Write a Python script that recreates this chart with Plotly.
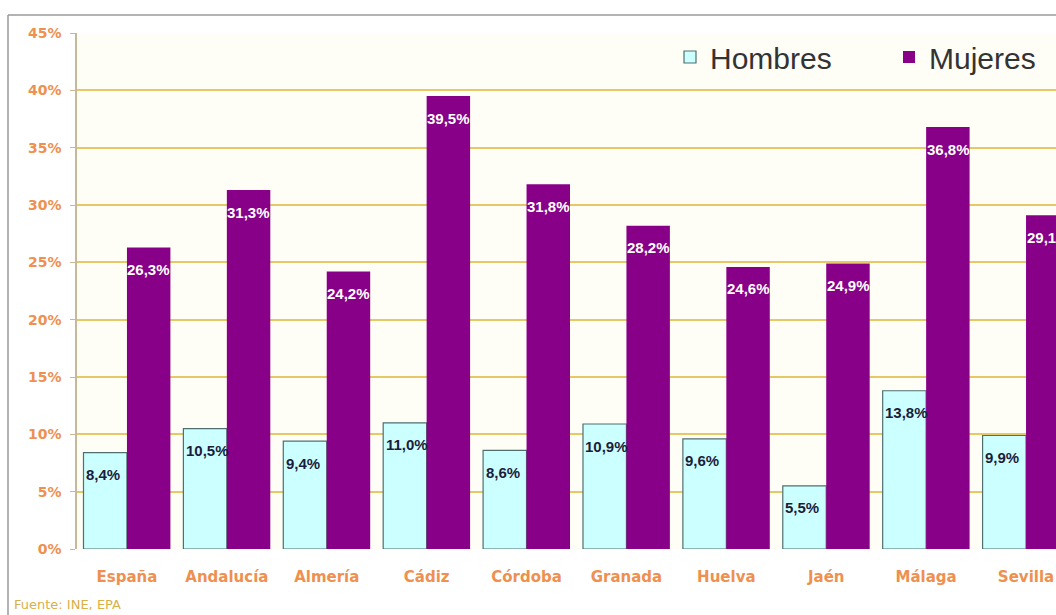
import plotly.graph_objects as go

categorias = ["España", "Andalucía", "Almería", "Cádiz", "Córdoba", "Granada",
              "Huelva", "Jaén", "Málaga", "Sevilla"]
hombres = [8.4, 10.5, 9.4, 11.0, 8.6, 10.9, 9.6, 5.5, 13.8, 9.9]
mujeres = [26.3, 31.3, 24.2, 39.5, 31.8, 28.2, 24.6, 24.9, 36.8, 29.1]
y_ticks = [0, 5, 10, 15, 20, 25, 30, 35, 40, 45]
y_ticklabels = [f"{v}%" for v in y_ticks]
fuente = "Fuente: INE, EPA"

W, H = 1056, 615
L, R, T, B = 77, 0, 33, 66

def fmt(v):
    return f"{v:.1f}".replace(".", ",") + "%"

fig = go.Figure()
fig.add_trace(go.Bar(
    name="Hombres", x=categorias, y=hombres,
    marker=dict(color="#ccffff", line=dict(color="#4f6f6f", width=1.2)),
))
fig.add_trace(go.Bar(
    name="Mujeres", x=categorias, y=mujeres,
    marker=dict(color="#880088", line=dict(color="#880088", width=0)),
))

lab_font = "Liberation Sans, Arial"
annotations = []
for c, h, m in zip(categorias, hombres, mujeres):
    annotations.append(dict(x=c, y=h, xref="x", yref="y", text=fmt(h), showarrow=False,
                            xanchor="left", xshift=-43, yshift=-22,
                            font=dict(family=lab_font, size=15, color="#1c1c3c", weight="bold")))
    annotations.append(dict(x=c, y=m, xref="x", yref="y", text=fmt(m), showarrow=False,
                            xshift=22, yshift=-22,
                            font=dict(family=lab_font, size=15, color="#ffffff", weight="bold")))

pw = W - L - R
ph = H - T - B
def px(x):
    return (x - L) / pw
def py(y):
    return (H - B - y) / ph

annotations.append(dict(x=px(12), y=py(604), xref="paper", yref="paper", xanchor="left", yanchor="middle",
                        text=fuente, showarrow=False,
                        font=dict(family="DejaVu Sans", size=13, color="#d8b048")))

shapes = [
    dict(type="line", xref="paper", yref="paper", x0=px(8), x1=px(W + 5), y0=py(15), y1=py(15),
         line=dict(color="#9a9a9a", width=1.5)),
    dict(type="line", xref="paper", yref="paper", x0=px(8), x1=px(8), y0=py(15), y1=py(H + 5),
         line=dict(color="#9a9a9a", width=1.5)),
]

fig.update_layout(
    width=W, height=H,
    margin=dict(l=L, r=R, t=T, b=B, autoexpand=False),
    paper_bgcolor="#ffffff",
    plot_bgcolor="#fffef6",
    barmode="group", bargap=0.13, bargroupgap=0,
    font=dict(family="Liberation Sans, Arial"),
    showlegend=True,
    legend=dict(orientation="h", x=px(670), y=py(31), xanchor="left", yanchor="top",
                bgcolor="rgba(255,255,255,0)", font=dict(size=30, color="#333333"),
                entrywidth=174, entrywidthmode="pixels", itemwidth=30),
    annotations=annotations,
    shapes=shapes,
)
fig.update_xaxes(
    range=[-0.5, 9.3], showgrid=False, showline=False, ticks="",
    tickfont=dict(family="DejaVu Sans", size=15, color="#ee9050", weight="bold"),
    ticklabelstandoff=17,
)
fig.update_yaxes(
    range=[0, 45], tickvals=y_ticks, ticktext=y_ticklabels,
    showgrid=True, gridcolor="#e6c866", gridwidth=1.5,
    showline=True, linecolor="#c8b89a", linewidth=1.5,
    ticks="outside", ticklen=5, tickcolor="#c8b89a",
    tickfont=dict(family="DejaVu Sans", size=14, color="#ee9050", weight="bold"),
    ticklabelstandoff=6,
    zeroline=False,
)

fig.write_html("out.html", config={"displayModeBar": False},
               post_script="document.body.style.margin='0';document.body.style.overflow='hidden';")
